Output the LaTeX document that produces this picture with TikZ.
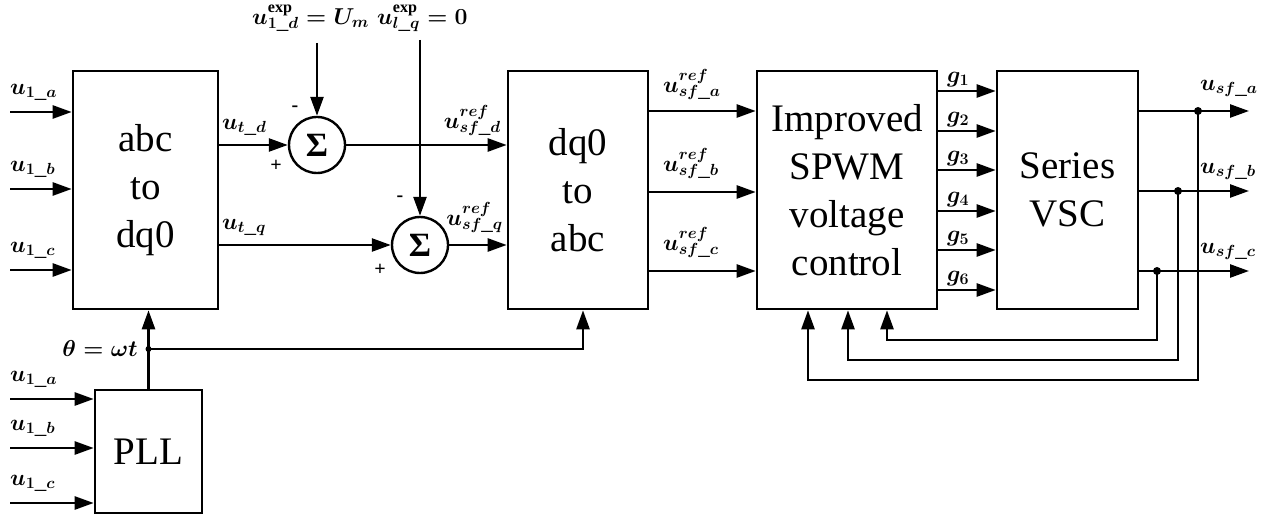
\RequirePackage{fix-cm}
\documentclass[tikz,border=0pt]{standalone}
\usepackage{fontspec}
\setmainfont{Liberation Serif}
\usetikzlibrary{arrows.meta,calc}
\begin{document}
\begin{tikzpicture}[x=1pt,y=-1pt,
  blk/.style={draw,line width=2.6pt,inner sep=0pt,align=center,font=\fontsize{39}{48}\selectfont},
  sig/.style={draw,circle,line width=2.4pt,minimum size=56pt,inner sep=0pt,font=\fontsize{34}{34}\selectfont\bfseries},
  ln/.style={line width=2.5pt},
  arr/.style={ln,-{Triangle[length=19pt,width=13pt]}},
  lbl/.style={font=\fontsize{23}{25}\selectfont\boldmath,inner sep=0pt},
  sgn/.style={font=\fontsize{20}{20}\selectfont\bfseries,inner sep=0pt},
  dot/.style={circle,fill,inner sep=0pt,minimum size=8pt}
]
\useasboundingbox (0,0) rectangle (1271,521);

% blocks
\node[blk,minimum width=145pt,minimum height=238pt] (abc) at (145.5,190) {abc\\to\\dq0};
\node[blk,minimum width=140pt,minimum height=238pt] (dq0) at (578,190) {dq0\\to\\abc};
\node[blk,minimum width=180pt,minimum height=238pt] (imp) at (847,190) {Improved\\SPWM\\voltage\\control};
\node[blk,minimum width=141pt,minimum height=238pt] (vsc) at (1067.5,190) {Series\\VSC};
\node[blk,minimum width=107pt,minimum height=123pt] (pll) at (148.5,451.5) {PLL};

% summing junctions
\node[sig] (s1) at (317,145) {Σ};
\node[sig] (s2) at (420,245) {Σ};

% left inputs
\coordinate (ia) at (10,112);
\coordinate (ib) at (10,189);
\coordinate (ic) at (10,270);
\draw[arr] (ia) -- (abc.west |- ia);
\draw[arr] (ib) -- (abc.west |- ib);
\draw[arr] (ic) -- (abc.west |- ic);
\node[lbl,anchor=south west] (lia) at (10,101) {$u_{1\_a}$};
\node[lbl,anchor=south west] (lib) at (10,178) {$u_{1\_b}$};
\node[lbl,anchor=south west] (lic) at (10,259) {$u_{1\_c}$};

% references
\node[lbl,anchor=south west] (r1) at (252,32) {$u^{\mathrm{exp}}_{1\_d}=U_m$};
\node[lbl,anchor=south west] (r2) at (377,32) {$u^{\mathrm{exp}}_{l\_q}=0$};
\coordinate (t1) at (317,43);
\coordinate (t2) at (420,40);
\draw[arr] (t1) -- (s1.north);
\draw[arr] (t2) -- (s2.north);

% abc -> sums
\draw[arr] (abc.east |- s1) -- (s1.west);
\draw[arr] (abc.east |- s2) -- (s2.west);
\node[lbl,anchor=south west] (lud) at (222,136) {$u_{t\_d}$};
\node[lbl,anchor=south west] (luq) at (222,236) {$u_{t\_q}$};
\node[sgn] (m1) at (295,109) {-};
\node[sgn] (p1) at (276,166) {+};
\node[sgn] (m2) at (400,199) {-};
\node[sgn] (p2) at (380,270) {+};

% sums -> dq0
\draw[arr] (s1.east) -- (dq0.west |- s1);
\draw[arr] (s2.east) -- (dq0.west |- s2);
\node[lbl,anchor=south east] (lrd) at (501,136) {$u^{ref}_{sf\_d}$};
\node[lbl,anchor=south east] (lrq) at (503,233) {$u^{ref}_{sf\_q}$};

% dq0 -> improved
\coordinate (ya) at (0,111);
\coordinate (yb) at (0,192);
\coordinate (yc) at (0,271);
\draw[arr] (dq0.east |- ya) -- (imp.west |- ya);
\draw[arr] (dq0.east |- yb) -- (imp.west |- yb);
\draw[arr] (dq0.east |- yc) -- (imp.west |- yc);
\node[lbl,anchor=south west] (lra) at (663,100) {$u^{ref}_{sf\_a}$};
\node[lbl,anchor=south west] (lrb) at (663,179) {$u^{ref}_{sf\_b}$};
\node[lbl,anchor=south west] (lrc) at (663,258) {$u^{ref}_{sf\_c}$};

% gate signals
\foreach \y/\i in {91/1,131/2,170/3,211/4,250/5,290/6}{
  \draw[arr] (imp.east |- 0,\y) -- (vsc.west |- 0,\y);
  \node[lbl,anchor=south west] (g\i) at (947,\y-4) {$g_{\i}$};
}

% series outputs
\coordinate (oa) at (1249,111);
\coordinate (ob) at (1249,191);
\coordinate (oc) at (1249,271);
\draw[arr] (vsc.east |- oa) -- (oa);
\draw[arr] (vsc.east |- ob) -- (ob);
\draw[arr] (vsc.east |- oc) -- (oc);
\node[lbl,anchor=south west] (loa) at (1200,97) {$u_{sf\_a}$};
\node[lbl,anchor=south west] (lob) at (1200,180) {$u_{sf\_b}$};
\node[lbl,anchor=south west] (loc) at (1200,260) {$u_{sf\_c}$};
\node[dot] (da) at (1198,111) {};
\node[dot] (db) at (1178,191) {};
\node[dot] (dc) at (1157,271) {};

% feedback
\draw[arr] (dc.center) -- (1157,340) -| (imp.south -| 887,0);
\draw[arr] (db.center) -- (1178,360) -| (imp.south -| 848,0);
\draw[arr] (da.center) -- (1198,380) -| (imp.south -| 808,0);

% PLL
\coordinate (pa) at (10,399);
\coordinate (pb) at (10,448);
\coordinate (pc) at (10,503);
\draw[arr] (pa) -- (pll.west |- pa);
\draw[arr] (pb) -- (pll.west |- pb);
\draw[arr] (pc) -- (pll.west |- pc);
\node[lbl,anchor=south west] (lpa) at (10,388) {$u_{1\_a}$};
\node[lbl,anchor=south west] (lpb) at (10,437) {$u_{1\_b}$};
\node[lbl,anchor=south west] (lpc) at (10,492) {$u_{1\_c}$};
\draw[arr] (pll.north) -- (pll.north |- abc.south);
\node[dot,minimum size=6pt] (j) at (pll.north |- 0,349) {};
\draw[arr] (j.center) -| (dq0.south -| 583,0);
\node[lbl,anchor=east] (th) at (138,349) {$\theta=\omega t$};
\end{tikzpicture}
\end{document}
